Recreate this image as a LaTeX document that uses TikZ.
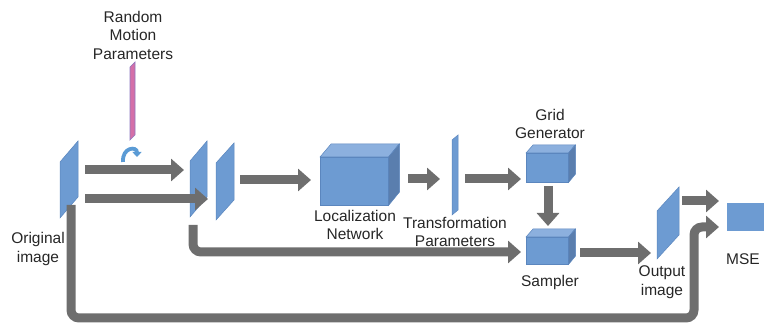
\documentclass[tikz,border=0pt]{standalone}
\usepackage{fontspec}
\setmainfont{Liberation Sans}
\usetikzlibrary{arrows.meta}

\definecolor{planeblue}{HTML}{6D9BD2}
\definecolor{planeedge}{HTML}{5B86BE}
\definecolor{cubetop}{HTML}{8CB0DE}
\definecolor{cubeside}{HTML}{5A7EAE}
\definecolor{arrowgrey}{HTML}{6E6E6E}
\definecolor{motionpink}{HTML}{D46FA8}
\definecolor{motionedge}{HTML}{8C78C0}
\definecolor{curlblue}{HTML}{5B9BD5}

\begin{document}
\begin{tikzpicture}[x=1pt,y=-1pt,
  flow/.style={draw=arrowgrey, line width=9pt,
    -{Triangle[length=13pt,width=22pt]}},
  loopline/.style={flow, rounded corners=8pt},
  plane/.style={fill=planeblue, draw=planeedge, line width=0.5pt},
  front/.style={rectangle, fill=planeblue, draw=planeedge, line width=0.5pt,
    inner sep=0pt, anchor=north west},
  lbl/.style={align=center, font=\fontsize{15.5}{18.5}\selectfont, text=black!85},
]
\useasboundingbox (0,0) rectangle (764,323);

% ---- image planes ----
\draw[plane] (60,162) -- (78,141) -- (78,197) -- (60,218) -- cycle;
\coordinate (orig) at (69,180);
\draw[plane] (190,161) -- (207,141) -- (207,197) -- (190,217) -- cycle;
\coordinate (warp) at (198,180);
\draw[plane] (216,163) -- (234,143) -- (234,200) -- (216,220) -- cycle;
\coordinate (warpb) at (225,182);
\draw[plane] (657,211) -- (679,187) -- (679,235) -- (657,259) -- cycle;
\coordinate (outimg) at (668,223);
% transformation parameter vector
\draw[plane] (452,140) -- (458,135) -- (458,210) -- (452,215) -- cycle;
\coordinate (theta) at (455,175);
% random motion parameter vector
\draw[fill=motionpink, draw=motionedge, line width=0.7pt]
  (130,67) -- (135,62) -- (135,135) -- (130,140) -- cycle;

% curved "apply motion" arrow
\draw[curlblue, line width=3.8pt, -{Triangle[length=5pt,width=9pt]}]
  (123,162) .. controls (122,147) and (137,146) .. (137,157);

% ---- cubes ----
\node[front, minimum width=68pt, minimum height=48pt] (loc) at (320,157) {};
\fill[cubetop, draw=planeedge, line width=0.5pt]
  (loc.north west) -- ++(11,-13) -- ++(68,0) -- (loc.north east) -- cycle;
\fill[cubeside, draw=planeedge, line width=0.5pt]
  (loc.north east) -- ++(11,-13) -- ++(0,48) -- (loc.south east) -- cycle;

\node[front, minimum width=42pt, minimum height=29pt] (grid) at (526,153) {};
\fill[cubetop, draw=planeedge, line width=0.5pt]
  (grid.north west) -- ++(7,-8) -- ++(42,0) -- (grid.north east) -- cycle;
\fill[cubeside, draw=planeedge, line width=0.5pt]
  (grid.north east) -- ++(7,-8) -- ++(0,29) -- (grid.south east) -- cycle;

\node[front, minimum width=42pt, minimum height=27pt] (samp) at (526,237) {};
\fill[cubetop, draw=planeedge, line width=0.5pt]
  (samp.north west) -- ++(7,-8) -- ++(42,0) -- (samp.north east) -- cycle;
\fill[cubeside, draw=planeedge, line width=0.5pt]
  (samp.north east) -- ++(7,-8) -- ++(0,27) -- (samp.south east) -- cycle;

\node[rectangle, fill=planeblue, inner sep=0pt, minimum width=37pt,
  minimum height=28pt, anchor=north west] (mse) at (727,203) {};

% ---- connector end points ----
\coordinate (a1s) at (85,170);   \coordinate (a1e) at (184,170);
\coordinate (a2s) at (85,199);   \coordinate (a2e) at (208,199);
\coordinate (a3s) at (240,180);  \coordinate (a3e) at (311,180);
\coordinate (a4s) at (408,179);  \coordinate (a4e) at (440,179);
\coordinate (a5s) at (465,179);  \coordinate (a5e) at (521,179);
\coordinate (a6s) at (548,186);  \coordinate (a6e) at (548,226);
\coordinate (a7s) at (580,253);  \coordinate (a7e) at (651,253);
\coordinate (a8s) at (682,201);  \coordinate (a8e) at (719,201);
\coordinate (l1s) at (71,205);   \coordinate (l1e) at (719,227);
\coordinate (l2s) at (193,225);  \coordinate (l2e) at (521,252);

% ---- connectors ----
\draw[flow] (a1s) -- (a1e);
\draw[flow] (a2s) -- (a2e);
\draw[flow] (a3s) -- (a3e);
\draw[flow] (a4s) -- (a4e);
\draw[flow] (a5s) -- (a5e);
\draw[flow] (a6s) -- (a6e);
\draw[flow] (a7s) -- (a7e);
\draw[flow] (a8s) -- (a8e);
\draw[loopline] (l1s) -- (71,318) -- (694,318) -- (694,227) -- (l1e);
\draw[loopline] (l2s) -- (193,252) -- (l2e);

% ---- labels ----
\node[lbl] (tmotion) at (133,35) {Random\\Motion\\Parameters};
\node[lbl] (torig) at (38,249) {Original\\image};
\node[lbl] (tloc) at (355,225) {Localization\\Network};
\node[lbl] (ttheta) at (455,232) {Transformation\\Parameters};
\node[lbl] (tgrid) at (550,124) {Grid\\Generator};
\node[lbl] (tsamp) at (550,282) {Sampler};
\node[lbl] (tout) at (662,282) {Output\\image};
\node[lbl] (tmse) at (743,259) {MSE};
\end{tikzpicture}
\end{document}
